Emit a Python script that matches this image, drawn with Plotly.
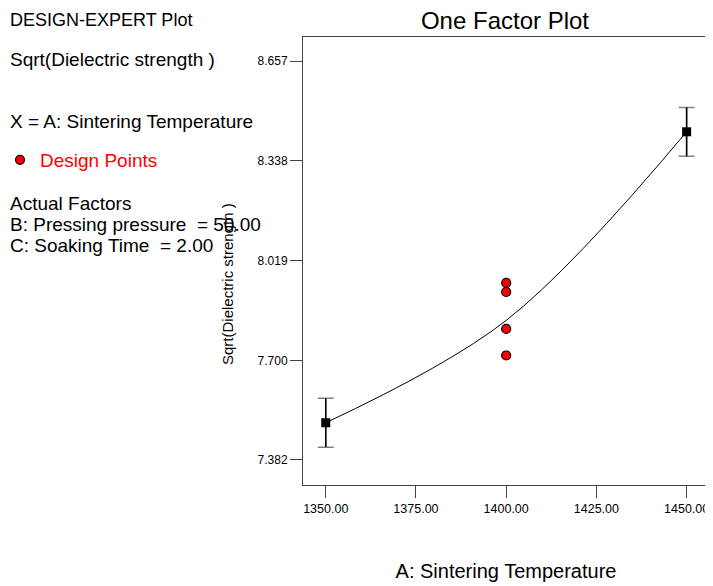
import plotly.graph_objects as go

# ---- data ----
factor_levels = [1350.0, 1450.0]
predicted_means = [7.501, 8.431]
ci_half_width = [0.078, 0.078]

curve_x = [1350.0, 1400.0, 1450.0]
curve_y = [7.501, 7.828, 8.431]

design_x = [1400.0, 1400.0, 1400.0, 1400.0]
design_y = [7.948, 7.919, 7.801, 7.716]

y_ticks = [7.382, 7.700, 8.019, 8.338, 8.657]
y_tick_labels = ["7.382", "7.700", "8.019", "8.338", "8.657"]
x_ticks = [1350, 1375, 1400, 1425, 1450]
x_tick_labels = ["1350.00", "1375.00", "1400.00", "1425.00", "1450.00"]

FONT = "Liberation Sans, Arial, sans-serif"
OFF = 8  # page body margin of the html page
W, H = 713 - OFF, 586 - OFF
L, R, T, B = 303 - OFF, 709 - OFF, 37 - OFF, 485 - OFF


def px_x(p):
    # p: pixel in the screenshot
    return (p - OFF - L) / (R - L)


def px_y(p):
    return (B - (p - OFF)) / (B - T)


fig = go.Figure()

# model curve
fig.add_trace(go.Scatter(
    x=curve_x, y=curve_y, mode="lines",
    line=dict(color="black", width=1, shape="spline", smoothing=1.0),
    showlegend=False, hoverinfo="skip"))

# error bars: gray caps
fig.add_trace(go.Scatter(
    x=factor_levels, y=predicted_means, mode="markers",
    marker=dict(size=1, color="rgba(0,0,0,0)"),
    error_y=dict(type="data", array=ci_half_width, visible=True,
                 color="#808080", thickness=1.5, width=8),
    showlegend=False, hoverinfo="skip"))
# error bars: black stems
fig.add_trace(go.Scatter(
    x=factor_levels, y=predicted_means, mode="markers",
    marker=dict(symbol="square", size=9, color="black"),
    error_y=dict(type="data", array=ci_half_width, visible=True,
                 color="black", thickness=1.5, width=0),
    showlegend=False))

# design points
fig.add_trace(go.Scatter(
    x=design_x, y=design_y, mode="markers", name="Design Points",
    marker=dict(symbol="circle", size=9, color="red",
                line=dict(color="black", width=1.2)),
    showlegend=True))

annotations = [dict(
    text="DESIGN-EXPERT Plot", xref="paper", yref="paper",
    x=px_x(8), y=px_y(OFF), xanchor="left", yanchor="top", showarrow=False,
    font=dict(family=FONT, size=18, color="black"))]
left_texts = [
    ("Sqrt(Dielectric strength )", 60),
    ("X = A: Sintering Temperature", 121),
    ("Actual Factors", 203),
    ("B: Pressing pressure  = 50.00", 224),
    ("C: Soaking Time  = 2.00", 246),
]
for txt, yp in left_texts:
    annotations.append(dict(
        text=txt, xref="paper", yref="paper", x=px_x(8), y=px_y(yp),
        xanchor="left", yanchor="middle", showarrow=False,
        font=dict(family=FONT, size=19, color="black")))

# y-axis title (placed like the reference, below the axis centre)
annotations.append(dict(
    text="Sqrt(Dielectric strength )", xref="paper", yref="paper",
    x=px_x(227), y=px_y(284), xanchor="center", yanchor="middle",
    textangle=-90, showarrow=False,
    font=dict(family=FONT, size=15, color="black")))

fig.update_layout(
    width=W, height=H,
    margin=dict(l=L, r=W - R, t=T, b=H - B, autoexpand=False),
    paper_bgcolor="white", plot_bgcolor="white",
    font=dict(family=FONT, color="black"),
    title=dict(text="One Factor Plot", x=(505 - OFF) / W,
               xanchor="center", y=1 - 4 / H, yanchor="top",
               font=dict(family=FONT, size=24, color="black")),
    showlegend=True,
    legend=dict(x=px_x(0), y=px_y(160), xanchor="left", yanchor="middle",
                bgcolor="rgba(0,0,0,0)",
                font=dict(family=FONT, size=19, color="red"),
                itemwidth=30),
    annotations=annotations,
)

fig.update_xaxes(
    range=[1343.7, 1456.2],
    tickvals=x_ticks, ticktext=x_tick_labels,
    ticks="outside", ticklen=12, tickcolor="#444", tickwidth=1,
    tickfont=dict(family=FONT, size=12.5, color="black"),
    showline=True, linecolor="#444", linewidth=1, mirror=True,
    showgrid=False, zeroline=False,
    title=dict(text="A: Sintering Temperature", standoff=48,
               font=dict(family=FONT, size=20, color="black")),
)
fig.update_yaxes(
    range=[7.302, 8.734],
    tickvals=y_ticks, ticktext=y_tick_labels,
    ticks="outside", ticklen=12, tickcolor="#444", tickwidth=1,
    tickfont=dict(family=FONT, size=12, color="black"),
    showline=True, linecolor="#444", linewidth=1, mirror=True,
    showgrid=False, zeroline=False,
)

fig.write_html("out.html")
